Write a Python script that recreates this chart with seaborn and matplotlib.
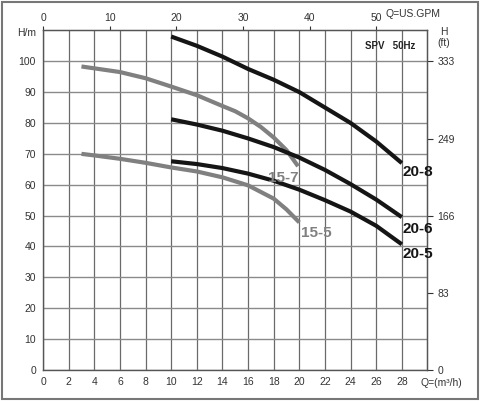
import numpy as np
import pandas as pd
import matplotlib.pyplot as plt
import matplotlib.patches as mpatches
import seaborn as sns

# Curve data (Q in m3/h, H in m)
q_15_7 = [3, 4, 6, 8, 10, 12, 14, 15, 16, 17, 18, 19, 19.9]
h_15_7 = [98.3, 97.7, 96.5, 94.5, 91.8, 89.0, 85.5, 83.8, 81.5, 78.7, 75.3, 71.2, 66.0]

q_15_5 = [3, 4, 6, 8, 10, 12, 14, 16, 18, 19, 20]
h_15_5 = [70.0, 69.5, 68.4, 67.1, 65.6, 64.3, 62.4, 59.8, 55.5, 52.0, 47.8]

q_20 = [10, 12, 14, 16, 18, 20, 22, 24, 26, 28]
h_20_8 = [108.0, 105.0, 101.5, 97.5, 94.0, 90.0, 85.0, 80.0, 74.0, 67.0]
h_20_6 = [81.2, 79.5, 77.5, 75.0, 72.2, 68.8, 64.8, 60.2, 55.2, 49.5]
h_20_5 = [67.6, 66.7, 65.4, 63.6, 61.3, 58.4, 55.0, 51.3, 46.7, 40.7]

x_ticks = list(range(0, 30, 2))
y_ticks = list(range(0, 110, 10))
gpm_ticks = [0, 10, 20, 30, 40, 50]
ft_ticks = [0, 83, 166, 249, 333]

GRAY = "#808080"
BLACK = "#151515"

rows = []
for name, qs, hs in [("15-7", q_15_7, h_15_7), ("15-5", q_15_5, h_15_5),
                     ("20-8", q_20, h_20_8), ("20-6", q_20, h_20_6),
                     ("20-5", q_20, h_20_5)]:
    for q, h in zip(qs, hs):
        rows.append({"model": name, "Q": q, "H": h})
df = pd.DataFrame(rows)

sns.set_style("white")
plt.rcParams["font.family"] = ["Liberation Sans", "DejaVu Sans"]

fig = plt.figure(figsize=(4.8, 4.01), dpi=100)
ax = fig.add_axes([0.0896, 0.0773, 0.801, 0.847])

palette = {"15-7": GRAY, "15-5": GRAY, "20-8": BLACK, "20-6": BLACK, "20-5": BLACK}
sns.lineplot(data=df, x="Q", y="H", hue="model", palette=palette, sort=False,
             estimator=None, legend=False, linewidth=3.0, ax=ax,
             solid_capstyle="butt")

ax.set_xlim(0, 30)
ax.set_ylim(0, 110)
ax.set_xticks(x_ticks)
ax.set_yticks(y_ticks)
ax.grid(True, axis="x", color="#6a6a6a", linewidth=0.9)
ax.grid(True, axis="y", color="#8a8a8a", linewidth=1.0)
ax.tick_params(axis="both", which="major", direction="out", length=3, width=0.8,
               labelsize=7.5, colors="#333333", pad=2)
ax.set_xlabel("")
ax.set_ylabel("")
ax.set_axisbelow(True)
for s in ax.spines.values():
    s.set_color("#555555")
    s.set_linewidth(1.0)

# top axis: US GPM
top = ax.secondary_xaxis("top", functions=(lambda q: q / 0.52, lambda g: g * 0.52))
top.set_xticks(gpm_ticks)
top.tick_params(direction="out", length=3, width=0.8, labelsize=7.5, colors="#333333", pad=2)
top.spines["top"].set_color("#555555")

# right axis: feet
right = ax.secondary_yaxis("right", functions=(lambda m: m * 3.33, lambda f: f / 3.33))
right.set_yticks(ft_ticks)
right.tick_params(direction="out", length=4, width=0.8, labelsize=7.5, colors="#333333", pad=3)
right.spines["right"].set_color("#555555")

# curve labels
label_font = ["Liberation Sans Narrow", "Liberation Sans"]
ax.text(28.05, 64.0, "20-8", fontsize=11, fontweight="bold", color=BLACK,
        ha="left", va="center", family=label_font)
ax.text(28.05, 45.8, "20-6", fontsize=11, fontweight="bold", color=BLACK,
        ha="left", va="center", family=label_font)
ax.text(28.05, 37.6, "20-5", fontsize=11, fontweight="bold", color=BLACK,
        ha="left", va="center", family=label_font)
ax.text(19.95, 62.3, "15-7", fontsize=11, fontweight="bold", color=GRAY,
        ha="right", va="center", family=label_font)
ax.text(20.15, 44.3, "15-5", fontsize=11, fontweight="bold", color=GRAY,
        ha="left", va="center", family=label_font)

ax.text(25.1, 105, "SPV   50Hz", fontsize=7, fontweight="bold", color="#222222",
        ha="left", va="center")
ax.text(-0.5, 109.3, "H/m", fontsize=7.5, color="#333333", ha="right", va="center",
        clip_on=False)

fig.text(0.804, 0.965, "Q=US.GPM", fontsize=7.5, color="#333333", ha="left", va="center")
fig.text(0.925, 0.920, "H", fontsize=7.5, color="#333333", ha="center", va="center")
fig.text(0.925, 0.893, "(ft)", fontsize=7.5, color="#333333", ha="center", va="center")
fig.text(0.877, 0.045, "Q=(m³/h)", fontsize=7.5, color="#333333", ha="left", va="center")

# outer frame
fig.patches.append(mpatches.Rectangle((0.004, 0.006), 0.991, 0.989, transform=fig.transFigure,
                                      fill=False, edgecolor="#777777", linewidth=1.5))

fig.savefig("out.png", dpi=100)
